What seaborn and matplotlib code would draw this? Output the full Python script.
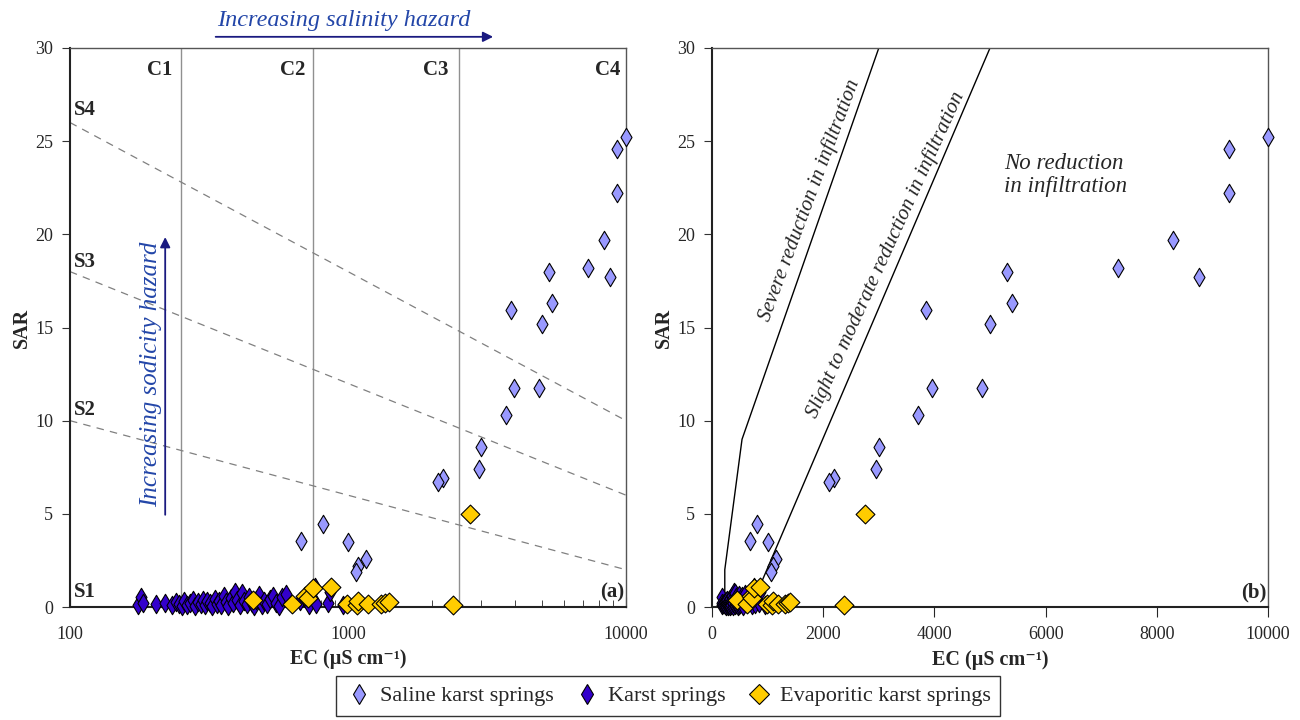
import numpy as np
import pandas as pd
import matplotlib
matplotlib.use("Agg")
import matplotlib.pyplot as plt
from matplotlib.lines import Line2D
import seaborn as sns

# ---------------- data ----------------
saline_ec = [10000, 9300, 9300, 8300, 8750, 7300, 5300, 5400, 3850, 5000, 3950, 4850,
             3700, 3000, 2950, 2200, 2100, 680, 810, 1000, 1160, 1090, 1070]
saline_sar = [25.2, 24.6, 22.2, 19.7, 17.7, 18.2, 18.0, 16.3, 15.95, 15.2, 11.75, 11.75,
              10.3, 8.6, 7.4, 6.9, 6.7, 3.55, 4.45, 3.5, 2.6, 2.2, 1.9]

karst_ec = [176, 180, 183, 204, 219, 232, 240, 247, 252, 258, 263, 270, 276, 282, 288,
            295, 300, 306, 312, 318, 325, 331, 338, 344, 350, 357, 364, 371, 378, 386,
            392, 400, 408, 415, 423, 432, 440, 450, 460, 468, 478, 490, 500, 512, 525,
            538, 552, 565, 580, 600, 670, 700, 725, 760, 770, 850, 860, 960]
karst_sar = [0.1, 0.55, 0.2, 0.15, 0.2, 0.1, 0.25, 0.15, 0.05, 0.3, 0.1, 0.2, 0.35, 0.05, 0.25,
             0.15, 0.4, 0.1, 0.3, 0.2, 0.05, 0.45, 0.15, 0.3, 0.1, 0.6, 0.25, 0.05, 0.5, 0.2,
             0.8, 0.35, 0.1, 0.75, 0.3, 0.15, 0.55, 0.2, 0.05, 0.4, 0.65, 0.1, 0.3, 0.15, 0.45,
             0.6, 0.2, 0.05, 0.55, 0.7, 0.3, 0.5, 0.1, 1.1, 0.15, 0.2, 0.8, 0.1]

evap_ec = [2750, 2380, 455, 627, 700, 720, 750, 870, 990, 1075, 1090, 1180, 1310, 1360, 1400]
evap_sar = [5.0, 0.1, 0.4, 0.15, 0.6, 0.5, 1.0, 1.1, 0.15, 0.1, 0.3, 0.15, 0.15, 0.2, 0.25]

group_names = ["Saline karst springs", "Karst springs", "Evaporitic karst springs"]

# salinity class boundaries (EC) and sodicity boundary lines (SAR at EC=100 and EC=10000)
c_bounds = [250, 750, 2500]
c_labels = ["C1", "C2", "C3", "C4"]
c_label_x = [233, 700, 2300, 9550]
s_lines = [(26, 10), (18, 6), (10, 2)]
s_labels = ["S4", "S3", "S2", "S1"]
s_label_y = [26.65, 18.5, 10.55, 0.8]

# infiltration boundary lines (right panel)
severe_ec = [230, 230, 540, 3000]
severe_sar = [0, 2, 9, 30]
slight_ec = [700, 5000]
slight_sar = [0, 30]

# ---------------- style ----------------
sns.set_style("ticks")
plt.rcParams["font.family"] = ["Liberation Serif", "DejaVu Serif"]
plt.rcParams["axes.unicode_minus"] = False

colors = {"Saline karst springs": "#9999FF",
          "Karst springs": "#3300CC",
          "Evaporitic karst springs": "#FFCC00"}
markers = {"Saline karst springs": "d",
           "Karst springs": "d",
           "Evaporitic karst springs": "D"}
sizes = {"Saline karst springs": 88,
         "Karst springs": 88,
         "Evaporitic karst springs": 92}

df = pd.concat([
    pd.DataFrame({"EC": saline_ec, "SAR": saline_sar, "type": group_names[0]}),
    pd.DataFrame({"EC": karst_ec, "SAR": karst_sar, "type": group_names[1]}),
    pd.DataFrame({"EC": evap_ec, "SAR": evap_sar, "type": group_names[2]}),
], ignore_index=True)

fig = plt.figure(figsize=(13, 7.2), dpi=100)
axL = fig.add_axes([70 / 1300, 113 / 720, 556 / 1300, 559 / 720])
axR = fig.add_axes([712 / 1300, 113 / 720, 556 / 1300, 559 / 720])

blue_txt = "#2346A8"
navy = "#1A1A80"

for ax in (axL, axR):
    for g in group_names:
        sub = df[df["type"] == g]
        sns.scatterplot(data=sub, x="EC", y="SAR", ax=ax, marker=markers[g],
                        color=colors[g], s=sizes[g], edgecolor="black",
                        linewidth=0.8, legend=False, zorder=5, clip_on=False)
    ax.set_ylim(0, 30)
    ax.set_yticks(range(0, 31, 5))
    ax.set_ylabel("SAR", fontsize=14.5, fontweight="bold", labelpad=2)
    for side in ("top", "right"):
        ax.spines[side].set_color("#555555")
        ax.spines[side].set_linewidth(1.0)
    for side in ("left", "bottom"):
        ax.spines[side].set_color("#222222")
        ax.spines[side].set_linewidth(1.5)
    ax.tick_params(axis="y", direction="out", length=6, labelsize=13, color="#333333", pad=6)

# ---------------- left panel ----------------
axL.set_xscale("log")
axL.set_xlim(100, 10000)
axL.set_xticks([100, 1000, 10000])
axL.set_xticklabels(["100", "1000", "10000"])
axL.tick_params(axis="x", which="major", direction="in", length=7, labelsize=13, pad=14)
axL.tick_params(axis="x", which="minor", direction="in", length=5)
axL.set_xlabel("EC (µS cm⁻¹)", fontsize=14.5, fontweight="bold", labelpad=4)

for cb in c_bounds:
    axL.axvline(cb, color="#909090", lw=1.0, zorder=1)
for lab, xx in zip(c_labels, c_label_x):
    axL.text(xx, 28.8, lab, ha="right", va="center", fontsize=15, fontweight="bold")

xs = np.array([100, 10000])
for (a, b) in s_lines:
    axL.plot(xs, [a, b], color="#808080", lw=0.9, dashes=(6, 5), zorder=1)
for lab, yy in zip(s_labels, s_label_y):
    axL.text(103, yy, lab, ha="left", va="center", fontsize=15, fontweight="bold")
axL.text(0.997, 0.8, "(a)", transform=axL.get_yaxis_transform(), ha="right", va="center",
         fontsize=15, fontweight="bold")

axL.annotate("", xy=(0.766, 1.02), xytext=(0.257, 1.02), xycoords="axes fraction",
             arrowprops=dict(arrowstyle="-|>", color=navy, lw=1.3, mutation_scale=15),
             annotation_clip=False)
axL.text(0.492, 1.03, "Increasing salinity hazard", transform=axL.transAxes,
         ha="center", va="bottom", fontsize=17.5, style="italic", color=blue_txt)
axL.annotate("", xy=(220, 20.0), xytext=(220, 4.8),
             arrowprops=dict(arrowstyle="-|>", color=navy, lw=1.3, mutation_scale=15))
axL.text(196, 12.5, "Increasing sodicity hazard", rotation=90, ha="center", va="center",
         fontsize=18, style="italic", color=blue_txt)

# ---------------- right panel ----------------
axR.set_xlim(0, 10000)
axR.set_xticks(range(0, 10001, 2000))
axR.tick_params(axis="x", direction="out", length=7, labelsize=13, pad=7)
axR.set_xlabel("EC (µS cm⁻¹)", fontsize=14.5, fontweight="bold", labelpad=5)
axR.plot(severe_ec, severe_sar, color="black", lw=1.0, zorder=2)
axR.plot(slight_ec, slight_sar, color="black", lw=1.0, zorder=2)
axR.text(1760, 21.8, "Severe reduction in infiltration", rotation=69.5, ha="center",
         va="center", fontsize=15, style="italic", rotation_mode="anchor")
axR.text(3120, 18.9, "Slight to moderate reduction in infiltration", rotation=65.5,
         ha="center", va="center", fontsize=15, style="italic", rotation_mode="anchor")
axR.text(5250, 23.2, "No reduction\nin infiltration", ha="left", va="center",
         fontsize=16.5, style="italic", linespacing=1.1)
axR.text(0.997, 0.8, "(b)", transform=axR.get_yaxis_transform(), ha="right", va="center",
         fontsize=15, fontweight="bold")

# ---------------- legend ----------------
handles = [Line2D([], [], linestyle="none", marker=markers[g], markerfacecolor=colors[g],
                  markeredgecolor="black", markeredgewidth=0.8, markersize=10)
           for g in group_names]
leg = fig.legend(handles, group_names, loc="lower center", bbox_to_anchor=(0.514, 0.006),
                 borderaxespad=0, ncol=3, frameon=True, fancybox=False, edgecolor="black",
                 fontsize=16, handletextpad=0.35, columnspacing=0.9, borderpad=0.42,
                 handlelength=1.2)
leg.get_frame().set_linewidth(1.0)

fig.savefig("out.png", dpi=100)
